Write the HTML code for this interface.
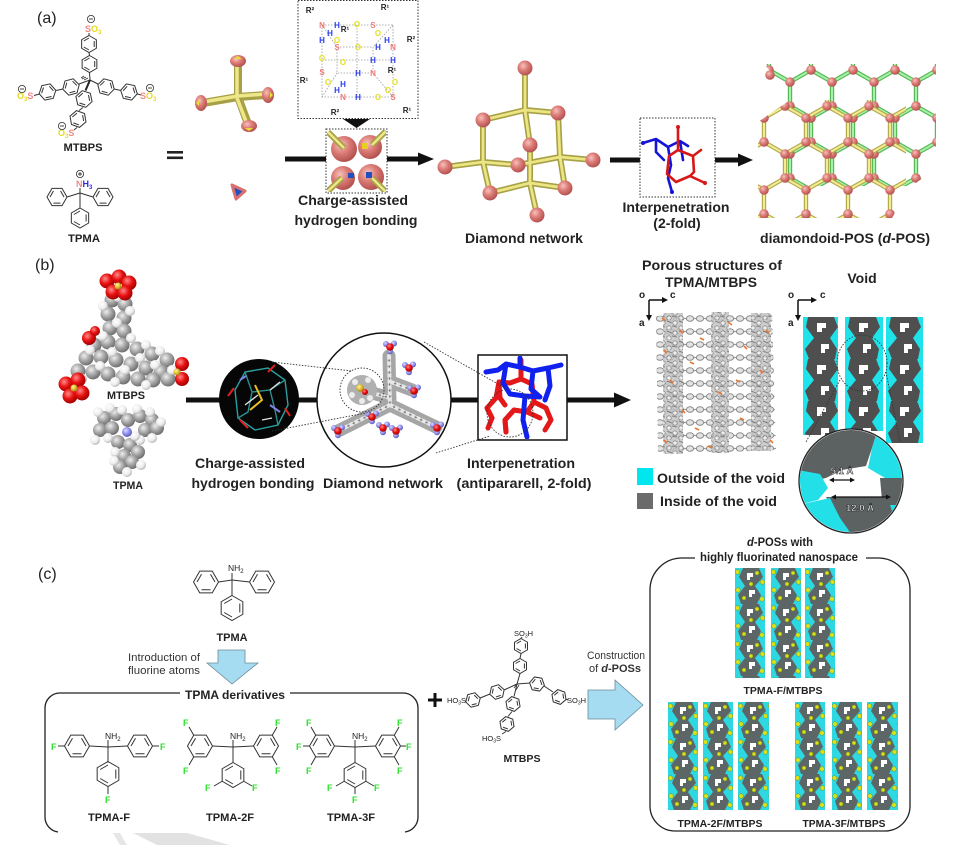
<!DOCTYPE html>
<html><head><meta charset="utf-8">
<style>
html,body{margin:0;padding:0;background:#fff;width:973px;height:845px;overflow:hidden}
svg{display:block}
text{font-family:"Liberation Sans",Arial,Helvetica,sans-serif}
.b{font-weight:bold;fill:#222}
.hx{stroke:#333;stroke-width:1;fill:none}
.bd{stroke:#333;stroke-width:1;fill:none}
.hb{font-size:8px;font-weight:bold;text-anchor:middle}
</style></head><body>
<svg width="973" height="845" viewBox="0 0 973 845" xmlns="http://www.w3.org/2000/svg" xmlns:xlink="http://www.w3.org/1999/xlink">
<defs>
 <radialGradient id="pk" cx=".38" cy=".35" r=".7"><stop offset="0" stop-color="#f6c2bd"/><stop offset=".45" stop-color="#dd7d78"/><stop offset="1" stop-color="#ad4c4a"/></radialGradient>
 <radialGradient id="gy" cx=".38" cy=".35" r=".7"><stop offset="0" stop-color="#eeeeee"/><stop offset=".5" stop-color="#a6a6a6"/><stop offset="1" stop-color="#676767"/></radialGradient>
 <radialGradient id="wh" cx=".38" cy=".35" r=".7"><stop offset="0" stop-color="#ffffff"/><stop offset=".6" stop-color="#ededed"/><stop offset="1" stop-color="#aeaeae"/></radialGradient>
 <radialGradient id="rd" cx=".38" cy=".35" r=".7"><stop offset="0" stop-color="#ff8a8a"/><stop offset=".5" stop-color="#e81010"/><stop offset="1" stop-color="#960000"/></radialGradient>
 <radialGradient id="pw" cx=".38" cy=".35" r=".7"><stop offset="0" stop-color="#dcdcff"/><stop offset=".5" stop-color="#9090f0"/><stop offset="1" stop-color="#5656ae"/></radialGradient>
 <radialGradient id="yl" cx=".38" cy=".35" r=".7"><stop offset="0" stop-color="#fff6a0"/><stop offset=".5" stop-color="#e0c030"/><stop offset="1" stop-color="#9c7c10"/></radialGradient>

 <g id="h85" class="hx"><polygon points="0,-8.5 7.36,-4.25 7.36,4.25 0,8.5 -7.36,4.25 -7.36,-4.25"/><path d="M5.2,-3V3M0,6L-5.2,3M-5.2,-3L0,-6"/></g>
 <g id="h10" class="hx"><polygon points="0,-10 8.66,-5 8.66,5 0,10 -8.66,5 -8.66,-5"/><path d="M6.1,-3.5V3.5M0,7L-6.1,3.5M-6.1,-3.5L0,-7"/></g>
 <g id="h12" class="hx"><polygon points="0,-12.5 10.83,-6.25 10.83,6.25 0,12.5 -10.83,6.25 -10.83,-6.25"/><path d="M7.8,-4.5V4.5M0,9L-7.8,4.5M-7.8,-4.5L0,-9"/></g>
 <g id="h7" class="hx"><polygon points="0,-7.5 6.5,-3.75 6.5,3.75 0,7.5 -6.5,3.75 -6.5,-3.75"/><path d="M4.4,-2.5V2.5M0,5L-4.4,2.5M-4.4,-2.5L0,-5"/></g>

 <g id="mn"><circle r="3.6" fill="#fff" stroke="#333" stroke-width=".8"/><line x1="-2" x2="2" y1="0" y2="0" stroke="#333" stroke-width=".9"/></g>
 <g id="pl"><circle r="3.6" fill="#fff" stroke="#333" stroke-width=".8"/><path d="M-2,0H2M0,-2V2" stroke="#333" stroke-width=".9"/></g>

 <g id="cl"><circle cx="-4" cy="-3" r="3" fill="url(#pw)"/><circle cx="4" cy="-3.5" r="3" fill="url(#pw)"/><circle cx="0" cy="4.2" r="3" fill="url(#pw)"/><circle r="3.8" fill="url(#rd)"/></g>

 <pattern id="honY" patternUnits="userSpaceOnUse" x="764" y="106" width="42" height="72">
  <path d="M21,0L42,12V36L21,48L0,36V12ZM21,48V72" fill="none" stroke="#b3ab4c" stroke-width="4.4"/>
  <path d="M21,0L42,12V36L21,48L0,36V12ZM21,48V72" fill="none" stroke="#f2ec94" stroke-width="2"/>
  <g fill="url(#pk)"><circle cx="21" cy="0" r="4.8"/><circle cx="42" cy="12" r="4.8"/><circle cx="42" cy="36" r="4.8"/><circle cx="21" cy="48" r="4.8"/><circle cx="0" cy="36" r="4.8"/><circle cx="0" cy="12" r="4.8"/><circle cx="21" cy="72" r="4.8"/></g>
 </pattern>
 <pattern id="honG" patternUnits="userSpaceOnUse" x="790" y="70" width="42" height="72">
  <path d="M21,0L42,12V36L21,48L0,36V12ZM21,48V72" fill="none" stroke="#58b858" stroke-width="4.4"/>
  <path d="M21,0L42,12V36L21,48L0,36V12ZM21,48V72" fill="none" stroke="#a6f2a6" stroke-width="2"/>
  <g fill="url(#pk)"><circle cx="21" cy="0" r="4.8"/><circle cx="42" cy="12" r="4.8"/><circle cx="42" cy="36" r="4.8"/><circle cx="21" cy="48" r="4.8"/><circle cx="0" cy="36" r="4.8"/><circle cx="0" cy="12" r="4.8"/><circle cx="21" cy="72" r="4.8"/></g>
 </pattern>
 <clipPath id="cdg"><polygon points="764,64 936,64 936,168 912,186 786,186 786,90"/></clipPath>
 <clipPath id="cdy"><polygon points="758,122 790,100 906,100 906,194 892,218 758,218"/></clipPath>

 <pattern id="vpat" patternUnits="userSpaceOnUse" x="0" y="0" width="38" height="42">
  <rect width="38" height="42" fill="#1ee3ea"/>
  <path d="M5,0H31L35,10L27,21L34,32L32,42H6L2,32L11,21L3,10Z" fill="#4f4f4f"/>
  <path d="M14,6h9v5h-4v4h-5Z" fill="#fff"/>
  <path d="M18,27h8v5h-4v4h-4Z" fill="#fff"/>
  <circle cx="2" cy="20" r="3" fill="#1ee3ea"/><circle cx="36" cy="5" r="3" fill="#1ee3ea"/>
 </pattern>
 <pattern id="fpat" patternUnits="userSpaceOnUse" x="0" y="0" width="30" height="36">
  <rect width="30" height="36" fill="#2ed8e2"/>
  <path d="M8,0H24L28,9L20,18L26,27L22,36H6L3,27L10,18L4,9Z" fill="#5d6666"/>
  <path d="M12,5h6v4h-3v3h-3Z" fill="#fff"/>
  <path d="M14,22h6v4h-3v3h-3Z" fill="#fff"/>
  <g fill="#d6e31c" stroke="#7a8a10" stroke-width=".5"><circle cx="2.5" cy="4" r="2.3"/><circle cx="27.5" cy="14" r="2.3"/><circle cx="3" cy="22" r="2.3"/><circle cx="27" cy="31" r="2.3"/><circle cx="16" cy="16" r="2"/><circle cx="9" cy="30" r="2"/><circle cx="22" cy="5" r="2"/></g>
 </pattern>
 <pattern id="ppat" patternUnits="userSpaceOnUse" x="655" y="312" width="20" height="13">
  <line x1="0" y1="6.5" x2="20" y2="6.5" stroke="#9a9a9a" stroke-width="1.3"/>
  <ellipse cx="5" cy="6.5" rx="3.6" ry="2.8" fill="#e2e2e2" stroke="#8a8a8a" stroke-width="1"/>
  <ellipse cx="15" cy="6.5" rx="3.6" ry="2.8" fill="#e2e2e2" stroke="#8a8a8a" stroke-width="1"/>
 </pattern>
 <pattern id="cpat" patternUnits="userSpaceOnUse" x="0" y="0" width="12" height="10">
  <rect width="12" height="10" fill="#c4c4c4"/>
  <circle cx="3" cy="3" r="2.2" fill="#ececec" stroke="#7a7a7a" stroke-width=".8"/>
  <circle cx="9" cy="8" r="2.2" fill="#ececec" stroke="#7a7a7a" stroke-width=".8"/>
  <path d="M0,6L5,7M7,1L12,3" stroke="#6e6e6e" stroke-width="1"/>
 </pattern>
 <clipPath id="cz"><circle cx="851" cy="481" r="51"/></clipPath>
 <clipPath id="cbx"><rect x="479" y="356" width="87" height="83"/></clipPath>
 <clipPath id="csb"><rect x="327" y="130" width="59" height="62"/></clipPath>
 <clipPath id="cbk"><circle cx="259" cy="399" r="38"/></clipPath>
</defs>

<!-- ================= (a) ================= -->
<text x="37" y="23" font-size="16" fill="#222">(a)</text>

<!-- MTBPS -->
<g class="bd">
 <line x1="90" y1="80" x2="89.5" y2="72.5"/><line x1="89.5" y1="55.5" x2="89" y2="52.5"/><line x1="89" y1="35.5" x2="89" y2="33"/>
 <line x1="90" y1="80" x2="79" y2="84"/><line x1="63" y1="89" x2="56" y2="90.5"/><line x1="39.5" y1="94" x2="34" y2="95.5"/>
 <line x1="90" y1="80" x2="98" y2="84"/><line x1="114" y1="89" x2="121" y2="90.5"/><line x1="137.5" y1="94" x2="141" y2="95"/>
 <line x1="77" y1="127.5" x2="74" y2="130"/><line x1="83" y1="107.5" x2="79" y2="110.5"/>
</g>
<line x1="90" y1="80" x2="85.5" y2="90.5" stroke="#222" stroke-width="2"/>
<path d="M88,78L84,80M86,77L82,79M84,76L81,78" stroke="#333" stroke-width=".8"/>
<use href="#h85" transform="translate(89.5,64)"/>
<use href="#h85" transform="translate(89,44)"/>
<use href="#h85" transform="translate(71,87) rotate(75)"/>
<use href="#h85" transform="translate(47.5,92) rotate(78)"/>
<use href="#h85" transform="translate(106,87) rotate(105)"/>
<use href="#h85" transform="translate(129,92) rotate(102)"/>
<use href="#h85" transform="translate(84,99) rotate(-12)"/>
<use href="#h85" transform="translate(78,119) rotate(-10)"/>
<text x="85" y="32" font-size="9" font-weight="bold"><tspan fill="#f08a8a">S</tspan><tspan fill="#e6da20">O</tspan><tspan fill="#e6da20" font-size="6" dy="2">3</tspan></text>
<text x="17" y="99" font-size="9" font-weight="bold"><tspan fill="#e6da20">O</tspan><tspan fill="#e6da20" font-size="6" dy="2">3</tspan><tspan fill="#f08a8a" dy="-2">S</tspan></text>
<text x="140" y="99" font-size="9" font-weight="bold"><tspan fill="#f08a8a">S</tspan><tspan fill="#e6da20">O</tspan><tspan fill="#e6da20" font-size="6" dy="2">3</tspan></text>
<text x="58" y="136" font-size="9" font-weight="bold"><tspan fill="#e6da20">O</tspan><tspan fill="#e6da20" font-size="6" dy="2">3</tspan><tspan fill="#f08a8a" dy="-2">S</tspan></text>
<use href="#mn" x="91" y="19"/><use href="#mn" x="22" y="89"/><use href="#mn" x="150" y="88"/><use href="#mn" x="62" y="126"/>
<text x="83" y="151" font-size="11" class="b" text-anchor="middle" textLength="39" lengthAdjust="spacingAndGlyphs">MTBPS</text>

<!-- TPMA (a) -->
<g class="bd"><line x1="80" y1="193" x2="67" y2="197"/><line x1="80" y1="193" x2="93" y2="197"/><line x1="80" y1="193" x2="80" y2="208"/><line x1="80" y1="193" x2="80" y2="188"/></g>
<use href="#h10" transform="translate(57,197) rotate(90)"/>
<use href="#h10" transform="translate(103,197) rotate(90)"/>
<use href="#h10" transform="translate(80,218)"/>
<text x="76" y="187" font-size="9" font-weight="bold"><tspan fill="#f08a8a">N</tspan><tspan fill="#2a2af0">H</tspan><tspan fill="#2a2af0" font-size="6" dy="2">3</tspan></text>
<use href="#pl" x="80" y="174"/>
<text x="84" y="242" font-size="11" class="b" text-anchor="middle" textLength="32" lengthAdjust="spacingAndGlyphs">TPMA</text>

<!-- = -->
<rect x="167" y="151" width="16" height="2.6" fill="#222"/><rect x="167" y="156.5" width="16" height="2.6" fill="#222"/>

<!-- tetrahedral node -->
<g stroke-linecap="butt">
 <g stroke="#a7a046" stroke-width="8"><line x1="238" y1="97" x2="238" y2="63"/><line x1="238" y1="97" x2="203" y2="103"/><line x1="238" y1="97" x2="266" y2="95"/><line x1="238" y1="97" x2="248" y2="124"/></g>
 <g stroke="#ede78a" stroke-width="3.5"><line x1="237" y1="97" x2="237" y2="63"/><line x1="238" y1="96" x2="203" y2="102"/><line x1="238" y1="96" x2="266" y2="94"/><line x1="237" y1="98" x2="247" y2="124"/></g>
</g>
<g fill="url(#pk)"><ellipse cx="238" cy="61" rx="8" ry="6"/><ellipse cx="201" cy="103" rx="6" ry="8"/><ellipse cx="268" cy="95" rx="6" ry="8"/><ellipse cx="249" cy="126" rx="8" ry="6"/></g>
<g fill="#e8e030"><polygon points="234,59 242,59 238,56"/><polygon points="199,100 199,106 196,103"/><polygon points="270,92 270,98 273,95"/><polygon points="245,128 253,128 249,131"/></g>
<polygon points="232,185 245,191 236,199" fill="#2050c0" stroke="#d87070" stroke-width="3" stroke-linejoin="round"/>

<!-- H-bond box -->
<rect x="298" y="0.5" width="120" height="118" fill="none" stroke="#333" stroke-width="1" stroke-dasharray="1.5,1.5"/>
<g stroke="#9a9a9a" stroke-width=".8" stroke-dasharray="1.5,1.5" fill="none">
 <rect x="322" y="25" width="71" height="72"/><rect x="337" y="47" width="36" height="26"/>
 <path d="M322,25L337,47M393,25L373,47M322,97L337,73M393,97L373,73M322,60H393M357,25V97"/>
</g>
<g class="hb" fill="#222"><text x="310" y="13">R²</text><text x="385" y="10">R¹</text><text x="345" y="32">R¹</text><text x="411" y="42">R²</text><text x="392" y="73">R¹</text><text x="304" y="83">R¹</text><text x="335" y="115">R²</text><text x="407" y="113">R¹</text></g>
<g class="hb" fill="#f07a7a"><text x="322" y="28">N</text><text x="393" y="50">N</text><text x="373" y="76">N</text><text x="343" y="100">N</text><text x="373" y="28">S</text><text x="337" y="50">S</text><text x="322" y="75">S</text><text x="393" y="100">S</text></g>
<g class="hb" fill="#e6e020"><text x="357" y="27">O</text><text x="378" y="36">O</text><text x="337" y="43">O</text><text x="358" y="50">O</text><text x="322" y="61">O</text><text x="343" y="65">O</text><text x="328" y="85">O</text><text x="395" y="85">O</text><text x="388" y="93">O</text><text x="378" y="100">O</text></g>
<g class="hb" fill="#2a3cf0"><text x="337" y="28">H</text><text x="330" y="36">H</text><text x="322" y="43">H</text><text x="387" y="43">H</text><text x="378" y="50">H</text><text x="393" y="63">H</text><text x="373" y="63">H</text><text x="358" y="76">H</text><text x="343" y="87">H</text><text x="337" y="93">H</text><text x="358" y="100">H</text></g>
<polygon points="343,119 370,119 356.5,128" fill="#111"/>
<g clip-path="url(#csb)">
 <g fill="url(#pk)"><circle cx="344" cy="149" r="13"/><circle cx="370" cy="147" r="12"/><circle cx="343" cy="178" r="12"/><circle cx="371" cy="177" r="13"/></g>
 <g stroke="#a7a046" stroke-width="6"><line x1="328" y1="132" x2="344" y2="148"/><line x1="386" y1="131" x2="372" y2="145"/><line x1="328" y1="191" x2="342" y2="178"/><line x1="387" y1="193" x2="372" y2="178"/></g>
 <g stroke="#ede78a" stroke-width="2.5"><line x1="328" y1="132" x2="344" y2="148"/><line x1="386" y1="131" x2="372" y2="145"/><line x1="328" y1="191" x2="342" y2="178"/><line x1="387" y1="193" x2="372" y2="178"/></g>
 <rect x="362" y="143" width="6" height="6" fill="#e8d020"/><rect x="348" y="173" width="6" height="5" fill="#2050c0"/><rect x="366" y="172" width="6" height="6" fill="#2050c0"/>
</g>
<rect x="326" y="129" width="61" height="64" fill="none" stroke="#333" stroke-width="1" stroke-dasharray="1.5,1.5"/>
<rect x="285" y="156.5" width="41" height="5" fill="#111"/><rect x="387" y="156.5" width="32" height="5" fill="#111"/><polygon points="418,152.5 434,159 418,165.5" fill="#111"/>
<text x="353" y="205" font-size="14" class="b" text-anchor="middle" textLength="110" lengthAdjust="spacingAndGlyphs">Charge-assisted</text>
<text x="356" y="225" font-size="14" class="b" text-anchor="middle" textLength="123" lengthAdjust="spacingAndGlyphs">hydrogen bonding</text>

<!-- Diamond network -->
<g stroke-linecap="round">
 <g stroke="#a7a046" stroke-width="6">
  <path d="M525,68L525,110M525,110L483,120M525,110L558,113M525,110L530,145M483,120L483,162M445,167L483,162M518,165L483,162M490,193L483,162M558,113L560,157M593,160L560,157M518,165L560,157M565,188L560,157M530,145L530,183M490,193L530,183M565,188L530,183M537,215L530,183"/>
 </g>
 <g stroke="#ece584" stroke-width="2.8">
  <path d="M525,68L525,110M525,110L483,120M525,110L558,113M525,110L530,145M483,120L483,162M445,167L483,162M518,165L483,162M490,193L483,162M558,113L560,157M593,160L560,157M518,165L560,157M565,188L560,157M530,145L530,183M490,193L530,183M565,188L530,183M537,215L530,183"/>
 </g>
</g>
<g fill="url(#pk)"><circle cx="518" cy="165" r="7.5"/><circle cx="525" cy="68" r="7.5"/><circle cx="483" cy="120" r="7.5"/><circle cx="558" cy="113" r="7.5"/><circle cx="445" cy="167" r="7.5"/><circle cx="593" cy="160" r="7.5"/><circle cx="490" cy="193" r="7.5"/><circle cx="565" cy="188" r="7.5"/><circle cx="537" cy="215" r="7.5"/><circle cx="530" cy="145" r="7.5"/></g>
<text x="524" y="243" font-size="14" class="b" text-anchor="middle" textLength="118" lengthAdjust="spacingAndGlyphs">Diamond network</text>

<!-- Interpenetration (a) -->
<rect x="610" y="157.5" width="30" height="5" fill="#111"/><rect x="715" y="157.5" width="25" height="5" fill="#111"/><polygon points="738,153.5 753,160 738,166.5" fill="#111"/>
<rect x="640" y="118" width="75" height="79" fill="none" stroke="#333" stroke-width="1" stroke-dasharray="1.5,1.5"/>
<g fill="none" stroke-width="2.6" stroke-linejoin="round" stroke-linecap="round">
 <path d="M643,143L656,139L668,147L680,141L688,146M668,147L671,165L668,178L672,192M656,139L656,152L664,160M680,141L683,160" stroke="#1414d8"/>
 <path d="M678,127L678,150L669,156L667,174L676,182L690,176L705,183M678,150L693,156L694,172L690,176M693,156L701,150" stroke="#d81818"/>
</g>
<g fill="#1414d8"><circle cx="643" cy="143" r="2"/><circle cx="672" cy="192" r="2"/></g>
<g fill="#d81818"><circle cx="678" cy="127" r="2"/><circle cx="705" cy="183" r="2"/></g>
<text x="676" y="212" font-size="14" class="b" text-anchor="middle" textLength="107" lengthAdjust="spacingAndGlyphs">Interpenetration</text>
<text x="677" y="228" font-size="14" class="b" text-anchor="middle">(2-fold)</text>

<!-- d-POS -->
<g clip-path="url(#cdg)"><rect x="764" y="64" width="172" height="122" fill="url(#honG)"/></g>
<circle cx="770" cy="75" r="4.8" fill="url(#pk)"/>
<g clip-path="url(#cdy)"><rect x="758" y="100" width="148" height="118" fill="url(#honY)"/></g>
<text x="845" y="243" font-size="14" class="b" text-anchor="middle" textLength="170" lengthAdjust="spacingAndGlyphs">diamondoid-POS (<tspan font-style="italic">d</tspan>-POS)</text>

<!-- ================= (b) ================= -->
<text x="35" y="270" font-size="16" fill="#222">(b)</text>

<!-- main arrow -->
<rect x="186" y="397.5" width="430" height="5" fill="#111"/><polygon points="614,392.5 631,400 614,407.5" fill="#111"/>

<!-- MTBPS spacefill -->
<g fill="url(#gy)">
 <circle cx="112" cy="300" r="7.5"/><circle cx="125" cy="304" r="7.5"/><circle cx="108" cy="314" r="7.5"/><circle cx="124" cy="318" r="7.5"/><circle cx="110" cy="328" r="7.5"/><circle cx="124" cy="331" r="7.5"/>
 <circle cx="94" cy="345" r="7.5"/><circle cx="108" cy="342" r="7.5"/><circle cx="122" cy="345" r="7.5"/><circle cx="137" cy="349" r="7.5"/><circle cx="152" cy="354" r="7.5"/><circle cx="167" cy="360" r="7.5"/>
 <circle cx="86" cy="358" r="7.5"/><circle cx="101" cy="357" r="7.5"/><circle cx="116" cy="360" r="7.5"/><circle cx="131" cy="364" r="7.5"/><circle cx="146" cy="368" r="7.5"/><circle cx="161" cy="372" r="7.5"/>
 <circle cx="78" cy="371" r="7.5"/><circle cx="93" cy="372" r="7.5"/><circle cx="108" cy="374" r="7.5"/><circle cx="123" cy="377" r="7.5"/><circle cx="138" cy="379" r="7.5"/><circle cx="153" cy="380" r="7.5"/><circle cx="168" cy="379" r="7.5"/>
</g>
<g fill="url(#wh)">
 <circle cx="118" cy="297" r="5"/><circle cx="103" cy="306" r="5"/><circle cx="130" cy="311" r="5"/><circle cx="117" cy="323" r="5"/><circle cx="103" cy="336" r="5"/><circle cx="131" cy="338" r="5"/>
 <circle cx="146" cy="345" r="5"/><circle cx="160" cy="351" r="5"/><circle cx="90" cy="350" r="5"/><circle cx="112" cy="352" r="5"/><circle cx="140" cy="358" r="5"/><circle cx="125" cy="370" r="5"/>
 <circle cx="100" cy="366" r="5"/><circle cx="155" cy="365" r="5"/><circle cx="172" cy="370" r="5"/><circle cx="82" cy="379" r="5"/><circle cx="115" cy="382" r="5"/><circle cx="146" cy="385" r="5"/>
</g>
<g fill="url(#rd)">
 <circle cx="107" cy="281" r="7.5"/><circle cx="119" cy="277" r="7.5"/><circle cx="129" cy="283" r="7.5"/><circle cx="113" cy="292" r="7.5"/><circle cx="125" cy="293" r="7.5"/>
 <circle cx="89" cy="338" r="7"/><circle cx="95" cy="331" r="5"/>
 <circle cx="66" cy="384" r="7.5"/><circle cx="78" cy="380" r="7.5"/><circle cx="70" cy="396" r="7.5"/><circle cx="82" cy="393" r="7.5"/>
 <circle cx="182" cy="364" r="7"/><circle cx="182" cy="379" r="7"/>
</g>
<g fill="url(#yl)"><circle cx="118" cy="286" r="3.5"/><circle cx="74" cy="388" r="3.5"/><circle cx="177" cy="372" r="3.5"/></g>
<text x="126" y="399" font-size="11" class="b" text-anchor="middle" textLength="38" lengthAdjust="spacingAndGlyphs">MTBPS</text>

<!-- TPMA spacefill -->
<g fill="url(#gy)">
 <circle cx="104" cy="418" r="7"/><circle cx="116" cy="414" r="7"/><circle cx="128" cy="420" r="7"/><circle cx="140" cy="416" r="7"/><circle cx="152" cy="420" r="7"/>
 <circle cx="100" cy="430" r="7"/><circle cx="112" cy="428" r="7"/><circle cx="145" cy="430" r="7"/><circle cx="157" cy="428" r="7"/>
 <circle cx="118" cy="442" r="7"/><circle cx="130" cy="445" r="7"/><circle cx="138" cy="452" r="7"/><circle cx="124" cy="456" r="7"/><circle cx="132" cy="462" r="7"/><circle cx="120" cy="467" r="7"/>
</g>
<g fill="url(#wh)">
 <circle cx="98" cy="412" r="5"/><circle cx="110" cy="408" r="5"/><circle cx="122" cy="410" r="5"/><circle cx="137" cy="409" r="5"/><circle cx="150" cy="412" r="5"/><circle cx="161" cy="422" r="5"/>
 <circle cx="95" cy="440" r="5"/><circle cx="108" cy="438" r="5"/><circle cx="140" cy="440" r="5"/><circle cx="152" cy="438" r="5"/><circle cx="115" cy="452" r="5"/><circle cx="135" cy="436" r="5"/>
 <circle cx="127" cy="472" r="5"/><circle cx="141" cy="465" r="5"/><circle cx="114" cy="461" r="5"/>
</g>
<circle cx="127" cy="432" r="5" fill="url(#pw)"/>
<text x="128" y="489" font-size="11" class="b" text-anchor="middle" textLength="30" lengthAdjust="spacingAndGlyphs">TPMA</text>

<!-- black circle -->
<circle cx="259" cy="399" r="40" fill="#060606"/>
<g clip-path="url(#cbk)" fill="none" stroke-width="1.4">
 <path d="M235,390L245,372L268,368L285,380L288,405L278,425L255,430L238,418Z" stroke="#2aa0a0"/>
 <path d="M245,372L252,392L270,390L285,380M252,392L248,412L238,418M270,390L275,410L278,425" stroke="#2a9090"/>
 <path d="M245,405L258,395M270,390L280,382M262,420L272,418" stroke="#e0e0e0"/>
 <path d="M255,385L262,400L250,410" stroke="#e8c020" stroke-width="2"/>
 <path d="M240,420L248,428M268,372L275,365M285,408L290,416M228,396L234,388" stroke="#e02020" stroke-width="2"/>
 <path d="M270,405L280,412M240,380L246,376" stroke="#8080e0" stroke-width="2"/>
</g>

<!-- large circle -->
<circle cx="384" cy="400" r="67" fill="#fff" stroke="#111" stroke-width="1.5"/>
<g stroke-linecap="round" fill="none">
 <path d="M389,356L390,405M390,405L340,430M390,405L436,427M391,382L412,390M390,398L362,390" stroke="#a6a6a6" stroke-width="13"/>
 <path d="M389,356L390,405M390,405L340,430M390,405L436,427M391,382L412,390M390,398L362,390" stroke="#e6e6e6" stroke-width="4" stroke-dasharray="2.5,3.5"/>
 <path d="M389,356L390,405M390,405L340,430M390,405L436,427M391,382L412,390M390,398L362,390" stroke="#7a7a7a" stroke-width="1.5" stroke-dasharray="1,5" stroke-dashoffset="2"/>
</g>
<circle cx="362" cy="390" r="15" fill="#b0b0b0"/>
<g fill="#ececec"><circle cx="355" cy="382" r="3"/><circle cx="368" cy="380" r="3"/><circle cx="352" cy="395" r="3"/><circle cx="370" cy="398" r="3"/><circle cx="362" cy="401" r="3"/></g>
<circle cx="360" cy="388" r="3.8" fill="url(#yl)"/><circle cx="365" cy="392" r="3" fill="url(#rd)"/>
<use href="#cl" x="390" y="347"/><use href="#cl" x="409" y="368"/><use href="#cl" x="414" y="391"/><use href="#cl" x="338" y="431"/><use href="#cl" x="383" y="428"/><use href="#cl" x="396" y="431"/><use href="#cl" x="437" y="428"/><use href="#cl" x="372" y="417"/>
<circle cx="362" cy="390" r="22" fill="none" stroke="#333" stroke-width=".9" stroke-dasharray="1.5,1.5"/>

<!-- box (b) -->
<rect x="478" y="355" width="89" height="85" fill="#fff" stroke="#111" stroke-width="1.5"/>
<g clip-path="url(#cbx)" fill="none" stroke-width="5" stroke-linecap="round" stroke-linejoin="round">
 <path d="M521,360L521,379L510,383L499,382L496,398L487,408L492,418L488,428M521,379L532,384L534,402L527,412L514,410L505,420L506,432M534,402L546,408L551,420L545,430M499,382L500,398L505,405M527,412L540,418" stroke="#e41818"/>
 <path d="M486,372L498,370L506,364L520,367L533,371L548,368L561,365M520,367L520,358M506,364L503,383L510,394M533,371L531,389L540,397M548,368L550,386L545,400M525,396L523,420L527,437M510,394L525,396L540,397" stroke="#1020ee"/>
 <path d="M514,410L505,420L506,432M487,408L492,418" stroke="#e41818"/>
</g>
<ellipse cx="510" cy="413" rx="23" ry="24" fill="none" stroke="#333" stroke-width=".9" stroke-dasharray="1.5,1.5"/>

<!-- dotted connectors (b) -->
<g stroke="#333" stroke-width=".9" stroke-dasharray="1.5,1.5" fill="none">
 <path d="M272,362L352,371M272,431L371,412M424,342L505,388M436,453L490,436"/>
</g>

<text x="250" y="468" font-size="14" class="b" text-anchor="middle" textLength="110" lengthAdjust="spacingAndGlyphs">Charge-assisted</text>
<text x="253" y="488" font-size="14" class="b" text-anchor="middle" textLength="123" lengthAdjust="spacingAndGlyphs">hydrogen bonding</text>
<text x="383" y="488" font-size="14" class="b" text-anchor="middle" textLength="120" lengthAdjust="spacingAndGlyphs">Diamond network</text>
<text x="521" y="468" font-size="14" class="b" text-anchor="middle" textLength="108" lengthAdjust="spacingAndGlyphs">Interpenetration</text>
<text x="524" y="488" font-size="14" class="b" text-anchor="middle" textLength="135" lengthAdjust="spacingAndGlyphs">(antipararell, 2-fold)</text>

<!-- Porous structure -->
<text x="712" y="270" font-size="14" class="b" text-anchor="middle" textLength="140" lengthAdjust="spacingAndGlyphs">Porous structures of</text>
<text x="711" y="287" font-size="14" class="b" text-anchor="middle" textLength="92" lengthAdjust="spacingAndGlyphs">TPMA/MTBPS</text>
<text x="862" y="283" font-size="14" class="b" text-anchor="middle">Void</text>
<g stroke="#111" stroke-width="1.5" fill="#111">
 <path d="M649,300H663M649,300V316" fill="none"/><polygon points="662,297 668,300 662,303" stroke="none"/><polygon points="646,315 649,321 652,315" stroke="none"/>
 <path d="M798,300H812M798,300V316" fill="none"/><polygon points="811,297 817,300 811,303" stroke="none"/><polygon points="795,315 798,321 801,315" stroke="none"/>
</g>
<g font-size="10" class="b"><text x="639" y="298">o</text><text x="670" y="298">c</text><text x="639" y="326">a</text><text x="788" y="298">o</text><text x="820" y="298">c</text><text x="788" y="326">a</text></g>
<polygon points="656,316 772,311 776,450 658,455" fill="url(#ppat)"/>
<rect x="663" y="313" width="20" height="141" fill="url(#cpat)" opacity=".85"/>
<rect x="711" y="312" width="18" height="141" fill="url(#cpat)" opacity=".85"/>
<rect x="751" y="313" width="20" height="138" fill="url(#cpat)" opacity=".85"/>
<g stroke="#e8772e" stroke-width="1.6">
 <path d="M662,318l4,3M680,330l3,3M700,338l4,2M664,350l3,3M728,322l4,3M744,346l3,3M690,362l4,2M670,380l3,3M718,392l4,2M760,370l3,3M682,410l3,3M740,418l4,2M664,440l3,3M708,446l4,2M766,330l3,3M770,440l3,3M736,380l4,2M695,428l4,2"/>
</g>

<!-- Void image -->
<g transform="translate(803,317)"><rect width="35" height="118" fill="url(#vpat)"/></g>
<g transform="translate(845,317)"><rect width="38" height="114" fill="url(#vpat)"/></g>
<g transform="translate(886,317)"><rect width="37" height="126" fill="url(#vpat)"/></g>
<ellipse cx="862" cy="363" rx="25" ry="28" fill="none" stroke="#333" stroke-width=".9" stroke-dasharray="1.5,1.5"/>
<g stroke="#333" stroke-width=".9" stroke-dasharray="1.5,1.5"><path d="M840,380L806,442M886,372L900,442"/></g>

<!-- zoom circle -->
<circle cx="851" cy="481" r="52" fill="#fff"/>
<g clip-path="url(#cz)">
 <polygon points="798,429 878,429 872,448 866,466 842,470 826,478 806,482 798,482" fill="#5c6262"/>
 <polygon points="878,429 905,429 905,480 885,478 868,468 872,448" fill="#22dfe8"/>
 <polygon points="798,470 820,474 828,488 818,500 798,505" fill="#22dfe8"/>
 <polygon points="880,478 905,478 905,500 882,500" fill="#5c6262"/>
 <polygon points="826,497 905,497 905,535 850,535 838,515" fill="#5c6262"/>
 <polygon points="798,505 830,498 840,518 852,535 798,535" fill="#22dfe8"/>
 <polygon points="890,505 905,505 905,520 895,520" fill="#22dfe8"/>
 <g stroke="#111" stroke-width="1.3"><line x1="832" y1="480" x2="852" y2="480"/><line x1="834" y1="497" x2="888" y2="497"/></g>
 <g fill="#111"><polygon points="829,480 834,477.5 834,482.5"/><polygon points="855,480 850,477.5 850,482.5"/><polygon points="831,497 836,494.5 836,499.5"/><polygon points="891,497 886,494.5 886,499.5"/></g>
 <text x="842" y="474" font-size="9.5" font-weight="bold" text-anchor="middle" fill="#fff" stroke="#222" stroke-width=".5">5.1 Å</text>
 <text x="860" y="511" font-size="9.5" font-weight="bold" text-anchor="middle" fill="#fff" stroke="#222" stroke-width=".5">12.0 Å</text>
</g>
<circle cx="851" cy="481" r="52" fill="none" stroke="#222" stroke-width="1.3"/>

<!-- legend -->
<rect x="637" y="468" width="16" height="17" fill="#00e6ef"/>
<rect x="637" y="493" width="16" height="16" fill="#6b6b6b"/>
<text x="657" y="483" font-size="14" class="b" textLength="128" lengthAdjust="spacingAndGlyphs">Outside of the void</text>
<text x="660" y="506" font-size="14" class="b" textLength="117" lengthAdjust="spacingAndGlyphs">Inside of the void</text>

<!-- ================= (c) ================= -->
<text x="38" y="579" font-size="16" fill="#222">(c)</text>

<!-- TPMA top -->
<g class="bd"><line x1="232" y1="580" x2="218.5" y2="582"/><line x1="232" y1="580" x2="249.5" y2="582"/><line x1="232" y1="580" x2="232" y2="595.5"/><line x1="232" y1="580" x2="232" y2="573"/></g>
<use href="#h12" transform="translate(206,582) rotate(90)"/>
<use href="#h12" transform="translate(262,582) rotate(90)"/>
<use href="#h12" transform="translate(232,608)"/>
<text x="228" y="571" font-size="8.5" fill="#222">NH<tspan font-size="6" dy="2">2</tspan></text>
<text x="232" y="641" font-size="11" class="b" text-anchor="middle" textLength="31" lengthAdjust="spacingAndGlyphs">TPMA</text>
<polygon points="218,650 245,650 245,663 258,663 232,684 207,663 218,663" fill="#a6dcf2" stroke="#6a8a98" stroke-width=".8"/>
<text x="200" y="661" font-size="11" fill="#333" text-anchor="end" textLength="72" lengthAdjust="spacingAndGlyphs">Introduction of</text>
<text x="200" y="674" font-size="11" fill="#333" text-anchor="end" textLength="72" lengthAdjust="spacingAndGlyphs">fluorine atoms</text>

<!-- left box -->
<path d="M180,693H60A15,15 0 0 0 45,708V817A15,15 0 0 0 58,832M290,693H403A15,15 0 0 1 418,708V817A15,15 0 0 1 405,832" fill="none" stroke="#222" stroke-width="1.3"/>
<text x="235" y="699" font-size="12" class="b" text-anchor="middle" textLength="100" lengthAdjust="spacingAndGlyphs">TPMA derivatives</text>

<!-- TPMA-F -->
<g class="bd"><line x1="108" y1="747" x2="89.5" y2="746"/><line x1="108" y1="747" x2="127.5" y2="746"/><line x1="108" y1="747" x2="108" y2="761.5"/><line x1="108" y1="747" x2="108" y2="740"/>
 <line x1="64.5" y1="746" x2="58" y2="746"/><line x1="152.5" y1="746" x2="159" y2="746"/><line x1="108" y1="786.5" x2="108" y2="794"/></g>
<use href="#h12" transform="translate(77,746) rotate(90)"/>
<use href="#h12" transform="translate(140,746) rotate(90)"/>
<use href="#h12" transform="translate(108,774)"/>
<text x="105" y="739" font-size="8.5" fill="#222">NH<tspan font-size="6" dy="2">2</tspan></text>
<g font-size="9" fill="#2ee02e" font-weight="bold"><text x="51" y="750">F</text><text x="160" y="750">F</text><text x="105" y="803">F</text></g>
<text x="109" y="821" font-size="11" class="b" text-anchor="middle" textLength="42" lengthAdjust="spacingAndGlyphs">TPMA-F</text>

<!-- TPMA-2F -->
<g class="bd"><line x1="233" y1="747" x2="212.5" y2="746"/><line x1="233" y1="747" x2="253.5" y2="746"/><line x1="233" y1="747" x2="233" y2="762.5"/><line x1="233" y1="747" x2="233" y2="740"/>
 <line x1="193.75" y1="735.2" x2="189" y2="727"/><line x1="193.75" y1="756.8" x2="189" y2="765"/><line x1="272.25" y1="735.2" x2="277" y2="727"/><line x1="272.25" y1="756.8" x2="277" y2="765"/>
 <line x1="222.2" y1="781.25" x2="214" y2="786"/><line x1="243.8" y1="781.25" x2="252" y2="786"/></g>
<use href="#h12" transform="translate(200,746) rotate(90)"/>
<use href="#h12" transform="translate(266,746) rotate(90)"/>
<use href="#h12" transform="translate(233,775)"/>
<text x="230" y="739" font-size="8.5" fill="#222">NH<tspan font-size="6" dy="2">2</tspan></text>
<g font-size="9" fill="#2ee02e" font-weight="bold"><text x="183" y="726">F</text><text x="183" y="774">F</text><text x="275" y="726">F</text><text x="275" y="774">F</text><text x="205" y="791">F</text><text x="252" y="791">F</text></g>
<text x="230" y="821" font-size="11" class="b" text-anchor="middle" textLength="48" lengthAdjust="spacingAndGlyphs">TPMA-2F</text>

<!-- TPMA-3F -->
<g class="bd"><line x1="355" y1="747" x2="334.5" y2="746"/><line x1="355" y1="747" x2="375.5" y2="746"/><line x1="355" y1="747" x2="355" y2="762.5"/><line x1="355" y1="747" x2="355" y2="740"/>
 <line x1="315.75" y1="735.2" x2="311" y2="727"/><line x1="315.75" y1="756.8" x2="311" y2="765"/><line x1="309.5" y1="746" x2="303" y2="746"/>
 <line x1="394.25" y1="735.2" x2="399" y2="727"/><line x1="394.25" y1="756.8" x2="399" y2="765"/><line x1="400.5" y1="746" x2="406" y2="746"/>
 <line x1="344.2" y1="781.25" x2="336" y2="786"/><line x1="365.8" y1="781.25" x2="374" y2="786"/><line x1="355" y1="787.5" x2="355" y2="794"/></g>
<use href="#h12" transform="translate(322,746) rotate(90)"/>
<use href="#h12" transform="translate(388,746) rotate(90)"/>
<use href="#h12" transform="translate(355,775)"/>
<text x="352" y="739" font-size="8.5" fill="#222">NH<tspan font-size="6" dy="2">2</tspan></text>
<g font-size="9" fill="#2ee02e" font-weight="bold"><text x="306" y="726">F</text><text x="306" y="774">F</text><text x="296" y="750">F</text><text x="397" y="726">F</text><text x="397" y="774">F</text><text x="406" y="750">F</text><text x="327" y="791">F</text><text x="374" y="791">F</text><text x="352" y="803">F</text></g>
<text x="351" y="821" font-size="11" class="b" text-anchor="middle" textLength="48" lengthAdjust="spacingAndGlyphs">TPMA-3F</text>

<!-- plus -->
<path d="M428,700H442M435,693V707" stroke="#111" stroke-width="3"/>

<!-- MTBPS (c) -->
<g class="bd">
 <line x1="517" y1="684" x2="520" y2="673.5"/><line x1="520" y1="658.5" x2="521" y2="653.5"/><line x1="521" y1="638.5" x2="522" y2="637"/>
 <line x1="517" y1="684" x2="504" y2="690"/><line x1="490" y1="694" x2="480" y2="698"/><line x1="466" y1="701" x2="466" y2="700"/>
 <line x1="517" y1="684" x2="530" y2="683"/><line x1="544" y1="686" x2="553" y2="692"/><line x1="566" y1="699" x2="568" y2="700"/>
 <line x1="517" y1="684" x2="514" y2="696.5"/><line x1="512" y1="711.5" x2="508" y2="716.5"/><line x1="506" y1="731.5" x2="502" y2="734"/>
</g>
<path d="M517,684L514,688M519,685L516,690" stroke="#333" stroke-width=".8"/>
<use href="#h7" transform="translate(520,666)"/>
<use href="#h7" transform="translate(521,646)"/>
<use href="#h7" transform="translate(497,692) rotate(72)"/>
<use href="#h7" transform="translate(473,700) rotate(75)"/>
<use href="#h7" transform="translate(537,684) rotate(100)"/>
<use href="#h7" transform="translate(559,697) rotate(110)"/>
<use href="#h7" transform="translate(513,704) rotate(-10)"/>
<use href="#h7" transform="translate(507,724) rotate(-10)"/>
<g font-size="7.5" fill="#222"><text x="514" y="636">SO<tspan font-size="5" dy="1.5">3</tspan><tspan dy="-1.5">H</tspan></text><text x="447" y="703">HO<tspan font-size="5" dy="1.5">3</tspan><tspan dy="-1.5">S</tspan></text><text x="567" y="703">SO<tspan font-size="5" dy="1.5">3</tspan><tspan dy="-1.5">H</tspan></text><text x="482" y="741">HO<tspan font-size="5" dy="1.5">3</tspan><tspan dy="-1.5">S</tspan></text></g>
<text x="522" y="762" font-size="10.5" class="b" text-anchor="middle" textLength="37" lengthAdjust="spacingAndGlyphs">MTBPS</text>

<!-- construction arrow -->
<text x="616" y="659" font-size="11" fill="#333" text-anchor="middle" textLength="58" lengthAdjust="spacingAndGlyphs">Construction</text>
<text x="615" y="672" font-size="11" fill="#333" text-anchor="middle">of <tspan font-weight="bold" font-style="italic">d</tspan><tspan font-weight="bold">-POSs</tspan></text>
<polygon points="588,690 615,690 615,680 643,705 615,730 615,719 588,719" fill="#a6dcf2" stroke="#6a8a98" stroke-width=".8"/>

<!-- right box -->
<path d="M695,558H682A32,32 0 0 0 650,590V806A25,25 0 0 0 675,831H885A25,25 0 0 0 910,806V590A32,32 0 0 0 878,558H866" fill="none" stroke="#222" stroke-width="1.3"/>
<text x="780" y="546" font-size="11.5" class="b" text-anchor="middle" textLength="66" lengthAdjust="spacingAndGlyphs"><tspan font-style="italic">d</tspan>-POSs with</text>
<text x="779" y="561" font-size="11.5" class="b" text-anchor="middle" textLength="158" lengthAdjust="spacingAndGlyphs">highly fluorinated nanospace</text>

<g transform="translate(735,568)"><rect width="30" height="110" fill="url(#fpat)"/></g>
<g transform="translate(771,568)"><rect width="30" height="110" fill="url(#fpat)"/></g>
<g transform="translate(805,568)"><rect width="30" height="110" fill="url(#fpat)"/></g>
<text x="783" y="694" font-size="10.5" class="b" text-anchor="middle" textLength="79" lengthAdjust="spacingAndGlyphs">TPMA-F/MTBPS</text>

<g transform="translate(668,702)"><rect width="30" height="108" fill="url(#fpat)"/></g>
<g transform="translate(703,702)"><rect width="30" height="108" fill="url(#fpat)"/></g>
<g transform="translate(738,702)"><rect width="31" height="108" fill="url(#fpat)"/></g>
<g transform="translate(795,702)"><rect width="30" height="108" fill="url(#fpat)"/></g>
<g transform="translate(832,702)"><rect width="30" height="108" fill="url(#fpat)"/></g>
<g transform="translate(867,702)"><rect width="31" height="108" fill="url(#fpat)"/></g>
<text x="720" y="827" font-size="10.5" class="b" text-anchor="middle" textLength="85" lengthAdjust="spacingAndGlyphs">TPMA-2F/MTBPS</text>
<text x="844" y="827" font-size="10.5" class="b" text-anchor="middle" textLength="83" lengthAdjust="spacingAndGlyphs">TPMA-3F/MTBPS</text>

<!-- watermark -->
<polygon points="133,833 187,833 230,845 157,845" fill="#e2e2e2"/>
<polygon points="113,833 120,833 127,845 120,845" fill="#e6e6e6"/>
</svg>
</body></html>
